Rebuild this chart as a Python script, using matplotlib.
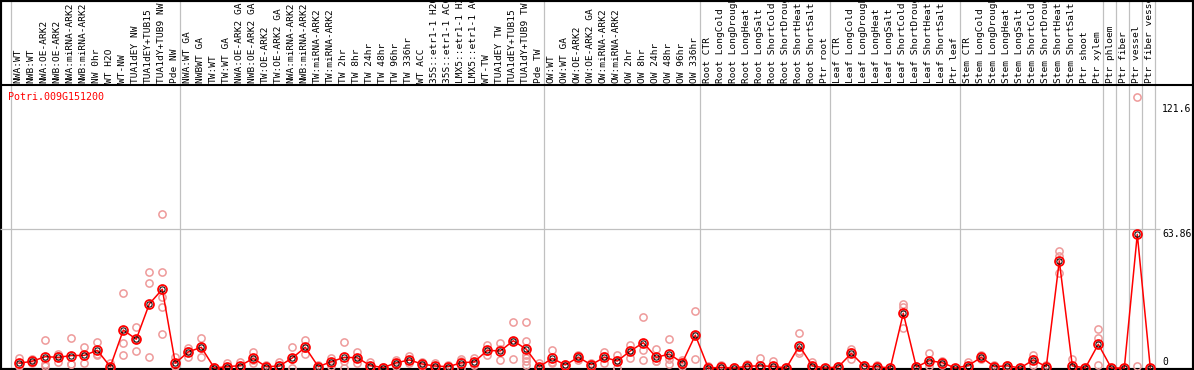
import matplotlib
matplotlib.use('Agg')
import matplotlib.pyplot as plt

# ── Dados ──────────────────────────────────────────────────────────────────────

GENE = 'Potri.009G151200'

samples = [
    'NWA:WT', 'NWB:WT', 'NWA:OE-ARK2', 'NWB:OE-ARK2', 'NWA:miRNA-ARK2',
    'NWB:miRNA-ARK2', 'NW 0hr', 'WT H2O', 'WT-NW', 'TUA1dEY NW',
    'TUA1dEY+TUB15', 'TUA1dY+TUB9 NW', 'Pde NW',
    'NWA:WT GA', 'NWBWT GA', 'TW:WT', 'TW:WT GA', 'NWA:OE-ARK2 GA',
    'NWB:OE-ARK2 GA', 'TW:OE-ARK2', 'TW:OE-ARK2 GA', 'NWA:miRNA-ARK2',
    'NWB:miRNA-ARK2', 'TW:miRNA-ARK2', 'TW:miRNA-ARK2', 'TW 2hr',
    'TW 8hr', 'TW 24hr', 'TW 48hr', 'TW 96hr', 'TW 336hr', 'WT ACC',
    '35S::etr1-1 H2O', '35S::etr1-1 ACC', 'LMX5::etr1-1 H2O',
    'LMX5::etr1-1 ACC', 'WT-TW', 'TUA1dEY TW', 'TUA1dEY+TUB15',
    'TUA1dY+TUB9 TW', 'Pde TW',
    'OW:WT', 'OW:WT GA', 'OW:OE-ARK2', 'OW:OE-ARK2 GA', 'OW:miRNA-ARK2',
    'OW:miRNA-ARK2', 'OW 2hr', 'OW 8hr', 'OW 24hr', 'OW 48hr', 'OW 96hr',
    'OW 336hr',
    'Root CTR', 'Root LongCold', 'Root LongDrought', 'Root LongHeat',
    'Root LongSalt', 'Root ShortCold', 'Root ShortDrought', 'Root ShortHeat',
    'Root ShortSalt', 'Ptr root',
    'Leaf CTR', 'Leaf LongCold', 'Leaf LongDrought', 'Leaf LongHeat',
    'Leaf LongSalt', 'Leaf ShortCold', 'Leaf ShortDrought', 'Leaf ShortHeat',
    'Leaf ShortSalt', 'Ptr leaf',
    'Stem CTR', 'Stem LongCold', 'Stem LongDrought', 'Stem LongHeat',
    'Stem LongSalt', 'Stem ShortCold', 'Stem ShortDrought', 'Stem ShortHeat',
    'Stem ShortSalt', 'Ptr shoot',
    'Ptr xylem', 'Ptr phloem', 'Ptr fiber', 'Ptr vessel', 'Ptr fiber vessel',
]

means = [
    2.2, 3.1, 5.2, 4.9, 5.7, 5.8, 8.1, 0.6, 17.4, 13.2, 29.4, 36.1, 2.2,
    7.4, 9.5, 0.0, 0.6, 1.1, 4.4, 0.6, 0.9, 4.6, 9.5, 0.6, 2.9, 4.9, 4.7,
    1.1, 0.2, 2.4, 3.7, 1.8, 0.9, 0.6, 2.4, 2.8, 8.1, 7.8, 12.5, 8.6, 0.6,
    4.4, 1.4, 4.9, 1.5, 4.9, 3.2, 7.8, 11.6, 4.9, 6.4, 2.4, 15.1,
    0.0, 0.3, 0.0, 0.8, 1.0, 0.7, 0.0, 10.2, 1.0, 0.0,
    0.5, 6.7, 0.8, 0.6, 0.0, 25.1, 0.4, 3.4, 2.4, 0.0,
    1.1, 4.9, 0.6, 1.0, 0.0, 3.7, 0.6, 49.1, 1.0, 0.0,
    10.9, 0.0, 0.0, 61.3, 0.0,
]

replicates = [
    [4.4, 1.5, 0.8], [4.3, 3.0, 2.4], [12.8, 1.7, 1.1], [6.4, 5.4, 2.9],
    [13.6, 1.8, 1.7], [9.5, 5.7, 2.2], [11.9, 6.4, 6.1], [2.2, 0.0, 0.0],
    [34.3, 11.3, 5.8], [18.7, 13.1, 7.8], [43.9, 38.8, 5.2],
    [70.6, 43.9, 32.7, 28.1, 15.6], [4.9, 1.0, 0.7],
    [9.0, 8.0, 4.9], [13.8, 9.8, 4.9], [0.3, 0.0, 0.0], [2.1, 0.0, 0.0],
    [2.6, 0.5, 0.2], [7.3, 3.8, 2.1], [1.2, 0.4, 0.2], [2.6, 0.1, 0.0],
    [9.5, 4.3, 0.0], [12.8, 9.4, 6.3], [1.2, 0.4, 0.2], [4.7, 2.9, 1.1],
    [11.8, 3.2, 0.0], [7.3, 4.7, 2.1], [2.9, 0.4, 0.0], [0.6, 0.0, 0.0],
    [3.7, 2.4, 1.1], [5.5, 3.5, 2.1], [2.9, 1.8, 0.7], [2.1, 0.6, 0.0],
    [1.6, 0.2, 0.0], [4.0, 3.2, 0.0], [4.4, 2.8, 1.2], [10.6, 7.8, 5.9],
    [11.3, 8.6, 3.5], [21.2, 12.2, 4.1], [21.0, 12.5, 6.0, 4.6, 3.1, 1.6],
    [2.1, 0.0, 0.0],
    [8.3, 2.8, 2.1], [2.0, 1.4, 0.8], [6.0, 4.9, 3.8], [2.5, 1.4, 0.6],
    [7.3, 5.3, 2.1], [6.0, 3.6, 0.0], [10.6, 8.1, 4.7], [23.3, 8.3, 3.5],
    [8.6, 3.1, 3.0], [13.2, 4.0, 2.0], [3.5, 2.4, 1.1], [26.1, 15.1, 4.1],
    [1.1, 0.0, 0.0], [1.2, 0.0, 0.0], [0.3, 0.0, 0.0], [1.8, 0.4, 0.2],
    [4.6, 0.0, 0.0], [3.4, 0.3, 0.0], [0.3, 0.0, 0.0], [15.9, 8.0, 6.7],
    [2.6, 0.4, 0.0], [0.2, 0.0, 0.0],
    [1.1, 0.4, 0.0], [8.6, 7.5, 4.0], [1.5, 0.8, 0.2], [1.5, 0.3, 0.0],
    [0.2, 0.0, 0.0], [29.4, 28.1, 18.2], [0.8, 0.4, 0.0], [6.7, 2.4, 1.1],
    [3.2, 2.4, 1.6], [0.2, 0.0, 0.0],
    [2.9, 0.4, 0.0], [5.9, 4.9, 4.0], [1.2, 0.6, 0.0], [1.5, 1.0, 0.5],
    [0.2, 0.0, 0.0], [5.8, 3.9, 1.4], [1.2, 0.6, 0.0], [53.5, 51.4, 43.4],
    [4.0, 0.0, 0.0], [0.2, 0.0, 0.0],
    [17.7, 13.6, 1.4], [0.0, 0.0], [0.0, 0.0], [124.3, 1.0], [0.0, 0.0],
]

# último índice de cada grupo (linhas verticais cinza)
group_ends = [-1, 12, 40, 52, 62, 72, 83, 84, 85, 86, 87]
y_ticks = [121.6, 63.86, 0]

# ── Geometria (pixels) ────────────────────────────────────────────────────────

W, H = 1194, 370
X0, STEP = 19.3, 13.0          # centro da 1a amostra, passo
HEADER = 85                    # linha que separa cabeçalho
Y_ZERO, PX_PER_UNIT = 368.0, 2.18

XLIM = (-X0 / STEP, (W - X0) / STEP)
YLIM = ((Y_ZERO - H) / PX_PER_UNIT, (Y_ZERO - HEADER) / PX_PER_UNIT)
MONO = 'DejaVu Sans Mono'
GRID = '#c0c0c0'

fig = plt.figure(figsize=(W / 100, H / 100), dpi=100)

# fundo em coordenadas de pixel no eixo y (cabeçalho, moldura, grades)
bg = fig.add_axes([0, 0, 1, 1])
bg.set_xlim(XLIM)
bg.set_ylim(H, 0)
bg.set_xticks([]); bg.set_yticks([])
for s in bg.spines.values():
    s.set_linewidth(3)
    s.set_color('black')

for g in group_ends:
    bg.axvline(g + 0.38, color=GRID, lw=0.9, zorder=1)
bg.axhline(HEADER, color='black', lw=1.5, zorder=2)

for i, name in enumerate(samples):
    bg.text(i - 0.08, HEADER - 2, name, rotation=90, ha='center', va='bottom',
            family=MONO, fontsize=6.8, color='black')

# ── Área de dados ─────────────────────────────────────────────────────────────

ax = fig.add_axes([0, 0, 1, (H - HEADER) / H])
ax.set_xlim(XLIM)
ax.set_ylim(YLIM)
ax.axis('off')
ax.patch.set_alpha(0)

ax.hlines(63.86, XLIM[0], (1160 - X0) / STEP, color=GRID, lw=0.9, zorder=1)

rx, ry = [], []
for i, vals in enumerate(replicates):
    rx += [i] * len(vals)
    ry += vals
ax.plot(rx, ry, 'o', mfc='none', mec='#ee9a9a', ms=5.2, mew=1.1, zorder=2,
        clip_on=False)

idx = list(range(len(samples)))
ax.plot(idx, means, color='red', lw=1.1, zorder=3)
ax.plot(idx, means, 'o', mfc='none', mec='red', ms=6.4, mew=1.3, zorder=4,
        clip_on=False)
ax.plot(idx, means, 'o', mfc='none', mec='black', ms=3.8, mew=0.7, zorder=5,
        clip_on=False)

x_lab = (1162 - X0) / STEP
for v in y_ticks:
    va = 'bottom' if v == 0 else 'top'
    ax.text(x_lab, v + (0.6 if v == 0 else -0.3), f'{v:g}', ha='left', va=va,
            family=MONO, fontsize=7, color='black')

fig.text(8 / W, 1 - 97 / H, GENE, color='red', family=MONO, fontsize=7.2,
         ha='left', va='center')

fig.savefig('out.png', dpi=100)
